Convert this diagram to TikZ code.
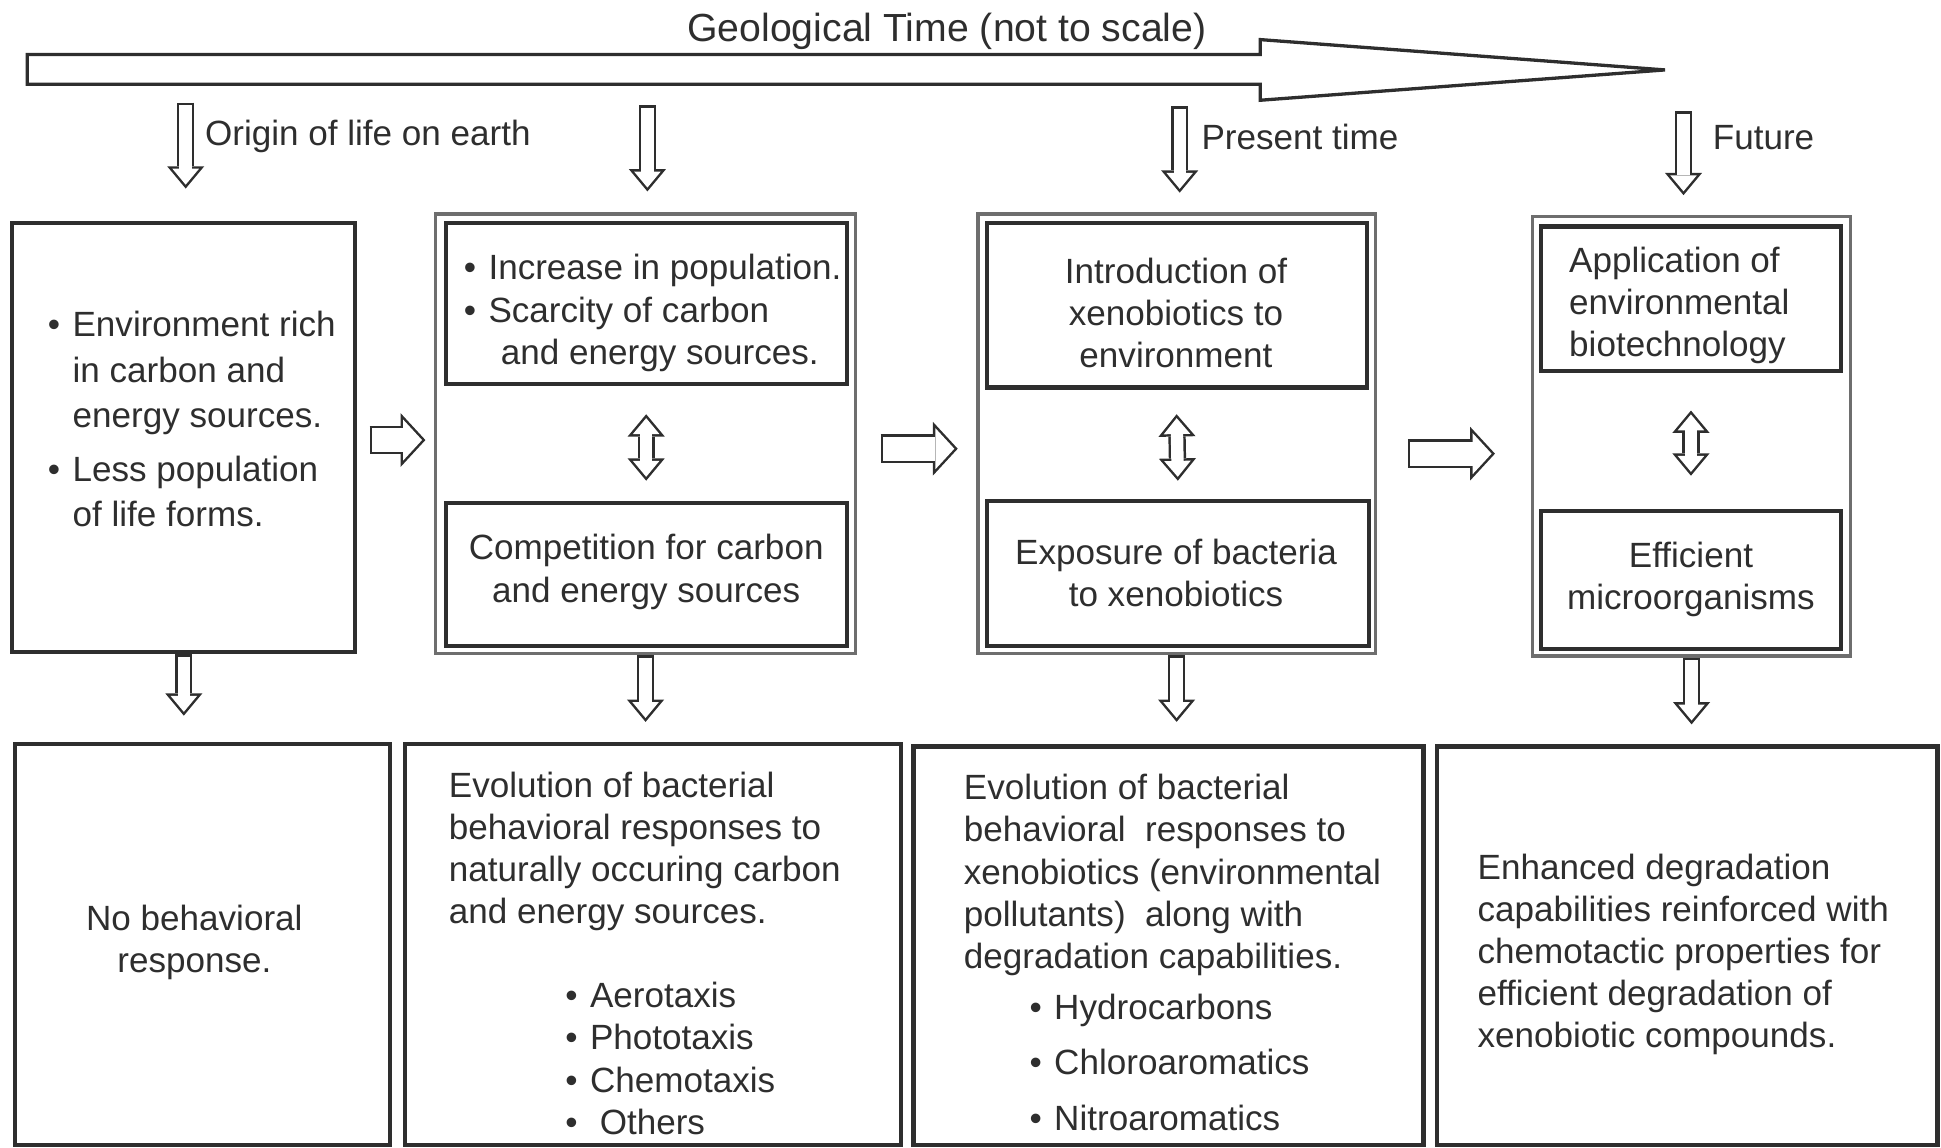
\documentclass[tikz,border=0pt]{standalone}
\usepackage{fontspec}
\setmainfont{Liberation Sans}
\usetikzlibrary{arrows.meta,calc,fit}
\definecolor{ink}{HTML}{2E2E2E}
\definecolor{frame}{HTML}{6E6E6E}
\newcommand{\bitem}{\makebox[6pt][l]{\textbullet}}
\newcommand{\bskip}{\hspace*{6pt}}
\tikzset{
  box/.style={draw=ink, line width=1pt, inner sep=0pt},
  outerbox/.style={draw=frame, line width=0.8pt, inner sep=0pt},
  txt/.style={text=ink, inner sep=0pt, font=\fontsize{8.5}{10.2}\selectfont},
  vhollow/.style={draw=ink, line width=4.2pt, -{Triangle[length=5.4pt,width=9pt,line width=0pt]},
    postaction={draw=white, line width=3pt, shorten <=0.6pt, shorten >=0.94pt,
      -{Triangle[length=3.86pt,width=6.44pt,line width=0pt]}}},
  vboth/.style={draw=ink, line width=4.2pt,
    {Triangle[length=5.4pt,width=9pt,line width=0pt]}-{Triangle[length=5.4pt,width=9pt,line width=0pt]},
    postaction={draw=white, line width=3pt, shorten <=0.94pt, shorten >=0.94pt,
      {Triangle[length=3.86pt,width=6.44pt,line width=0pt]}-{Triangle[length=3.86pt,width=6.44pt,line width=0pt]}}},
  hhollow/.style={draw=ink, line width=7pt, -{Triangle[length=6pt,width=13pt,line width=0pt]},
    postaction={draw=white, line width=5.8pt, shorten <=0.6pt, shorten >=0.82pt,
      -{Triangle[length=4.58pt,width=9.94pt,line width=0pt]}}}
}
\begin{document}
\begin{tikzpicture}[x=0.3pt,y=-0.3pt]
\useasboundingbox (0,0) rectangle (1568,927);

\node[txt, font=\fontsize{9.5}{11}\selectfont] (title) at (765,25) {Geological Time (not to scale)};
\draw[draw=ink, line width=0.8pt] (22,44) -- (1018,44) -- (1018,32) -- (1345,56.5) -- (1018,81) -- (1018,68) -- (22,68) -- cycle;

\coordinate (t1) at (150,83);
\coordinate (t2) at (523,85);
\coordinate (t3) at (953,86);
\coordinate (t4) at (1360,90);
\node[txt, anchor=west] (lorigin) at (165,110) {Origin of life on earth};
\node[txt, anchor=west] (lpresent) at (970,111) {Present time};
\node[txt, anchor=west] (lfuture) at (1383,111) {Future};

\node[box, fit={(10,180) (287,527)}] (envbox) {};
\node[outerbox, fit={(352,173) (691,528)}] (popbox) {};
\node[box, fit={(360,180) (684,310)}] (incbox) {};
\node[box, fit={(360,406) (684,522)}] (compbox) {};
\node[outerbox, fit={(790,173) (1111,528)}] (xenbox) {};
\node[box, fit={(797,180) (1104,313)}] (introbox) {};
\node[box, fit={(797,405) (1106,522)}] (exposbox) {};
\node[outerbox, fit={(1238,175) (1495,530)}] (biobox) {};
\node[box, fit={(1245,183) (1487,300)}] (applbox) {};
\node[box, fit={(1245,413) (1487,524)}] (effbox) {};

\node[box, line width=1.1pt, fit={(12,601) (315,925)}] (nobox) {};
\node[box, line width=1.1pt, fit={(327,601) (728,925)}] (natbox) {};
\node[box, line width=1.1pt, fit={(738,603) (1150,925)}] (polbox) {};
\node[box, line width=1.1pt, fit={(1161,603) (1565,925)}] (enhbox) {};

\node[txt, anchor=north west, align=left, font=\fontsize{8.5}{11}\selectfont] (envtext) at (38,251)
  {\bitem Environment rich\\ \bskip in carbon and\\ \bskip energy sources.\\[2pt] \bitem Less population\\ \bskip of life forms.};
\node[txt, anchor=north west, align=left] (inctext) at (374,205)
  {\bitem Increase in population.\\ \bitem Scarcity of carbon\\ \hspace*{9pt}and energy sources.};
\node[txt, align=center] (comptext) at (522,462) {Competition for carbon\\and energy sources};
\node[txt, align=center] (introtext) at (950,253) {Introduction of\\xenobiotics to\\environment};
\node[txt, align=center] (expostext) at (950,463) {Exposure of bacteria\\to xenobiotics};
\node[txt, anchor=north west, align=left] (appltext) at (1267,199) {Application of\\environmental\\biotechnology};
\node[txt, align=center] (efftext) at (1366,468) {Efficient\\microorganisms};

\node[txt, align=center] (notext) at (157,761) {No behavioral\\response.};
\node[txt, anchor=north west, align=left] (nattext) at (362,623)
  {Evolution of bacterial\\behavioral responses to\\naturally occuring carbon\\and energy sources.};
\node[txt, anchor=north west, align=left] (taxtext) at (456,793)
  {\bitem Aerotaxis\\ \bitem Phototaxis\\ \bitem Chemotaxis\\ \bitem\ Others};
\node[txt, anchor=north west, align=left] (poltext) at (778,625)
  {Evolution of bacterial\\behavioral\ \ responses to\\xenobiotics (environmental\\pollutants)\ \ along with\\degradation capabilities.};
\node[txt, anchor=north west, align=left, font=\fontsize{8.5}{13.5}\selectfont] (aromtext) at (831,802)
  {\bitem Hydrocarbons\\ \bitem Chloroaromatics\\ \bitem Nitroaromatics};
\node[txt, anchor=north west, align=left] (enhtext) at (1193,689)
  {Enhanced degradation\\capabilities reinforced with\\chemotactic properties for\\efficient degradation of\\xenobiotic compounds.};

\draw[vhollow] (t1) -- ($(t1 |- envbox.north)+(0,-26)$);
\draw[vhollow] (t2) -- ($(t2 |- popbox.north)+(0,-17)$);
\draw[vhollow] (t3) -- ($(t3 |- xenbox.north)+(0,-16)$);
\draw[vhollow] (t4) -- ($(t4 |- biobox.north)+(0,-16)$);

\draw[vboth] ($(incbox.south)+(0,23)$) -- ($(compbox.north)+(0,-16)$);
\draw[vboth] ($(introbox.south)+(0,20)$) -- ($(exposbox.north)+(0,-15)$);
\draw[vboth] ($(applbox.south)+(0,30)$) -- ($(effbox.north)+(0,-27)$);

\draw[hhollow] ($(envbox.east)+(10,2)$) -- ($(popbox.west)+(-7,5)$);
\draw[hhollow] ($(popbox.east)+(19,12)$) -- ($(xenbox.west)+(-15,12)$);
\draw[hhollow] ($(xenbox.east)+(25,16)$) -- ($(biobox.west)+(-29,14)$);

\draw[vhollow] (envbox.south) -- ($(envbox.south |- nobox.north)+(0,-21)$);
\draw[vhollow] (popbox.south) -- ($(popbox.south |- natbox.north)+(0,-16)$);
\draw[vhollow] (xenbox.south) -- ($(xenbox.south |- polbox.north)+(0,-18)$);
\draw[vhollow] (biobox.south) -- ($(biobox.south |- enhbox.north)+(0,-16)$);
\end{tikzpicture}
\end{document}
